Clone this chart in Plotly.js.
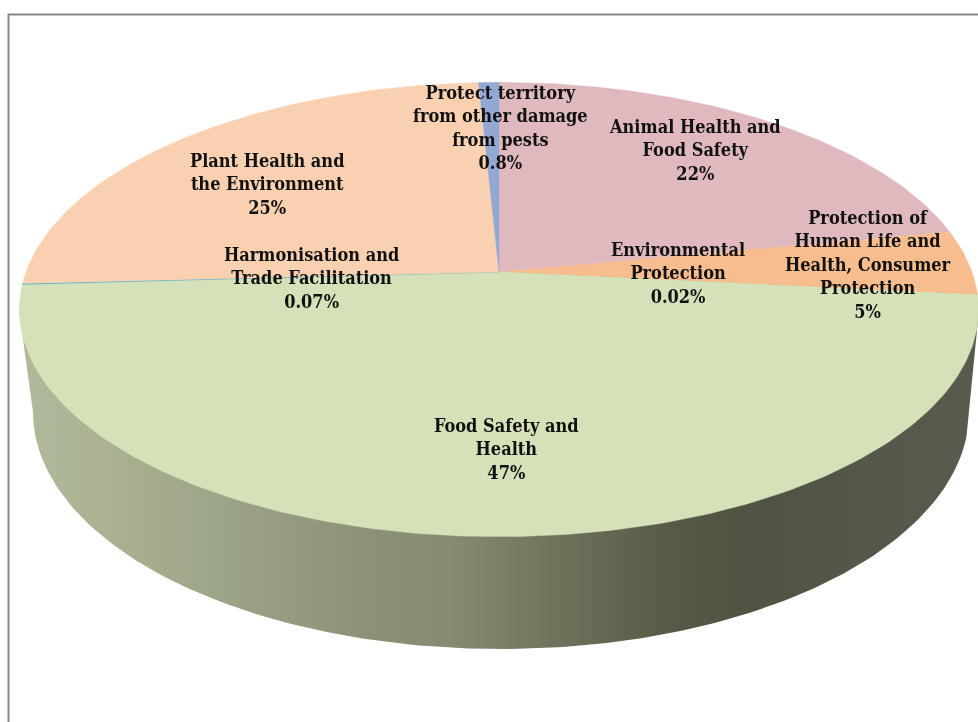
<!DOCTYPE html>
<html>
<head>
<meta charset="utf-8">
<script src="https://cdn.plot.ly/plotly-3.0.1.min.js"></script>
<style>
html,body{margin:0;padding:0;background:#fff;overflow:hidden}
#chart{width:978px;height:722px}
.annotation-text{filter:blur(0.25px)}
</style>
</head>
<body>
<div id="chart"></div>
<script>
// Data, clockwise from 12 o'clock
const categories = [
  "Animal Health and<br>Food Safety",
  "Protection of<br>Human Life and<br>Health, Consumer<br>Protection",
  "Environmental<br>Protection",
  "Food Safety and<br>Health",
  "Harmonisation and<br>Trade Facilitation",
  "Plant Health and<br>the Environment",
  "Protect territory<br>from other damage<br>from pests"
];
const values = [22, 4.6, 0.02, 47.45, 0.07, 25, 0.8];
const valueLabels = ["22%", "5%", "0.02%", "47%", "0.07%", "25%", "0.8%"];
const sliceColors = ["#dfb9be", "#f8bd8e", "#b9cd96", "#d5e2b9", "#4bacc6", "#f9d1b0", "#93a9d3"];

// Label anchors (pixels in the chart's axis space)
const labelX = [695, 868, 678, 506, 311, 267, 500];
const labelY = [150, 264, 273, 449, 278, 184, 127];

// Perspective disc geometry
const apex = {x: 499, y: 272};
const radiusX = 473, radiusY = 221, persp = 0.165;
const base = {x: 501, y: 412, rx: 468, ry: 237};
const side = {left: [19, 310], right: [979, 310]};

function project(deg) {
  const a = deg * Math.PI / 180;
  const u = Math.sin(a), t = -Math.cos(a);
  const w = 1 - persp * t;
  return [apex.x + radiusX * u / w, apex.y + radiusY * t / w];
}

const total = values.reduce((a, b) => a + b, 0);
const traces = [];

// Side wall
const wallX = [side.right[0]], wallY = [side.right[1]];
for (let d = 0; d <= 180; d += 1) {
  const a = d * Math.PI / 180;
  wallX.push(base.x + base.rx * Math.cos(a));
  wallY.push(base.y + base.ry * Math.sin(a));
}
wallX.push(side.left[0]); wallY.push(side.left[1]);
traces.push({
  type: "scatter", mode: "lines", x: wallX, y: wallY, fill: "toself",
  line: {width: 0, color: "rgba(0,0,0,0)"}, hoverinfo: "skip", showlegend: false,
  fillgradient: {
    type: "horizontal", start: 19, stop: 979,
    colorscale: [
      [0, "#b0ba9b"], [0.1, "#a9b190"], [0.2, "#9ea688"], [0.33, "#8f9579"],
      [0.45, "#858b72"], [0.52, "#777c64"], [0.6, "#666a54"], [0.68, "#565a46"],
      [0.75, "#4f5341"], [0.88, "#54574a"], [1, "#585b4e"]
    ]
  }
});

// Top-surface slices, sized from the values
let cumulative = 0;
values.forEach((v, i) => {
  const startDeg = cumulative / total * 360;
  cumulative += v;
  const endDeg = cumulative / total * 360;
  const xs = [apex.x], ys = [apex.y];
  const steps = Math.max(1, Math.ceil(endDeg - startDeg));
  for (let s = 0; s <= steps; s++) {
    const p = project(startDeg + (endDeg - startDeg) * s / steps);
    xs.push(p[0]); ys.push(p[1]);
  }
  xs.push(apex.x); ys.push(apex.y);
  traces.push({
    type: "scatter", mode: "lines", x: xs, y: ys, fill: "toself",
    fillcolor: sliceColors[i], line: {width: 0.4, color: sliceColors[i]},
    name: categories[i].replace(/<br>/g, " "), hoverinfo: "name", showlegend: false
  });
});

const annotations = categories.map((c, i) => ({
  x: labelX[i], y: labelY[i], xref: "x", yref: "y",
  text: "<b>" + c + "<br>" + valueLabels[i] + "</b>",
  showarrow: false, align: "center", xanchor: "center", yanchor: "middle",
  font: {family: "'DejaVu Serif Condensed', 'Liberation Serif', serif", size: 18, color: "#111111"}
}));

const layout = {
  width: 978, height: 722,
  margin: {l: 0, r: 0, t: 0, b: 0},
  paper_bgcolor: "#ffffff", plot_bgcolor: "#ffffff",
  showlegend: false,
  xaxis: {range: [0, 978], visible: false, fixedrange: true},
  yaxis: {range: [722, 0], visible: false, fixedrange: true},
  shapes: [
    {type: "rect", xref: "x", yref: "y", x0: 8.5, y0: 14.5, x1: 1100, y1: 900,
     line: {color: "#888888", width: 2}, fillcolor: "rgba(0,0,0,0)", layer: "below"}
  ],
  annotations: annotations
};

Plotly.newPlot("chart", traces, layout, {staticPlot: true, displayModeBar: false});
</script>
</body>
</html>
